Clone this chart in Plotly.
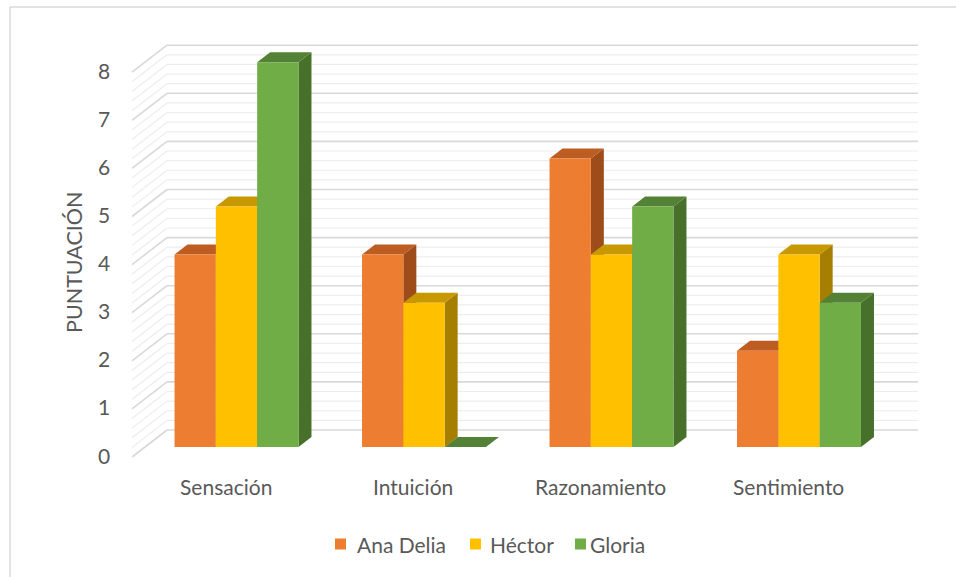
import plotly.graph_objects as go

# ---- data ----
categories = ["Sensación", "Intuición", "Razonamiento", "Sentimiento"]
series_names = ["Ana Delia", "Héctor", "Gloria"]
ana_delia = [4, 4, 6, 2]
hector = [5, 3, 4, 4]
gloria = [8, 0, 5, 3]
y_ticks = [0, 1, 2, 3, 4, 5, 6, 7, 8]
axis_title = "PUNTUACIÓN"

series_values = [ana_delia, hector, gloria]

# ---- styling ----
front_colors = ["#ED7D31", "#FFC000", "#70AD47"]
top_colors = ["#BD5D22", "#C79800", "#538135"]
side_colors = ["#9E4C1A", "#A67E00", "#47702A"]
text_color = "#595959"
font_family = "Lato"
major_grid = "#D9D9D9"
minor_grid = "#EDEDED"

W, H = 956, 577
PX_PER_CAT = 187.5      # pixels between category centres
PX_PER_UNIT = 48.1      # pixels per score unit
X0_PX = 236.5           # pixel x of the first category centre
Y0_PX = 447.0           # pixel y of score 0 on the bar front plane

x_range = [(0 - X0_PX) / PX_PER_CAT, (W - X0_PX) / PX_PER_CAT]
y_range = [(Y0_PX - H) / PX_PER_UNIT, Y0_PX / PX_PER_UNIT]


def dx(px):
    return px / PX_PER_CAT


def dy(px):
    return px / PX_PER_UNIT


bargap = 0.339
bar_w = (1 - bargap) / 3
# depth of a bar (oblique projection)
depth_x, depth_y = dx(13), dy(10)
# walls: front edge and back wall offsets relative to the bar front plane
front_off_x, front_off_y = dx(-10), dy(-10)
back_off_x, back_off_y = dx(25), dy(17)
wall_left_front = dx(132 - X0_PX)
wall_left_back = wall_left_front + dx(35)
wall_right_back = dx(918 - X0_PX)

shapes = []

# back wall and left wall gridlines (minor every 0.2, major every 1)
levels = [k * 0.2 for k in range(int(max(y_ticks) / 0.2) + 1)]
for major in (False, True):
    for k, v in enumerate(levels):
        if (k % 5 == 0) != major:
            continue
        col = major_grid if major else minor_grid
        wid = 1.6 if major else 1.2
        shapes.append(dict(type="line", xref="x", yref="y", layer="below",
                           x0=wall_left_back, x1=wall_right_back,
                           y0=v + back_off_y, y1=v + back_off_y,
                           line=dict(color=col, width=wid)))
        shapes.append(dict(type="line", xref="x", yref="y", layer="below",
                           x0=wall_left_front, x1=wall_left_back,
                           y0=v + front_off_y, y1=v + back_off_y,
                           line=dict(color=col, width=wid)))


def path(points):
    return "M " + " L ".join(f"{px:.5f},{py:.5f}" for px, py in points) + " Z"


# side and top faces of each bar, painted left to right
for i in range(len(categories)):
    for j, vals in enumerate(series_values):
        h = vals[i]
        left = i - (1 - bargap) / 2 + j * bar_w
        right = left + bar_w
        if h > 0:
            shapes.append(dict(type="path", xref="x", yref="y", layer="below",
                               path=path([(right, 0), (right + depth_x, depth_y),
                                          (right + depth_x, h + depth_y), (right, h)]),
                               fillcolor=side_colors[j], line=dict(width=0)))
        shapes.append(dict(type="path", xref="x", yref="y", layer="below",
                           path=path([(left, h), (right, h),
                                      (right + depth_x, h + depth_y),
                                      (left + depth_x, h + depth_y)]),
                           fillcolor=top_colors[j], line=dict(width=0)))

fig = go.Figure()
x_pos = list(range(len(categories)))
for j, (name, vals) in enumerate(zip(series_names, series_values)):
    fig.add_trace(go.Bar(x=x_pos, y=vals, name=name,
                         marker=dict(color=front_colors[j], line=dict(width=0)),
                         showlegend=False))

annotations = []
# score labels along the front edge of the left wall
for v in y_ticks:
    annotations.append(dict(x=dx(112 - X0_PX), y=v + front_off_y + dy(2),
                            xref="x", yref="y", text=str(v), showarrow=False,
                            xanchor="right", yanchor="middle",
                            font=dict(family=font_family, size=21, color=text_color)))
# category labels on the front edge of the floor
for i, cat in enumerate(categories):
    annotations.append(dict(x=i + dx(-11), y=dy(447 - 486), xref="x", yref="y",
                            text=cat, showarrow=False, xanchor="center",
                            yanchor="middle",
                            font=dict(family=font_family, size=21, color=text_color)))
# axis title
annotations.append(dict(x=74 / W, y=1 - 263 / H, xref="paper", yref="paper",
                        text=axis_title, textangle=-90, showarrow=False,
                        xanchor="center", yanchor="middle",
                        font=dict(family=font_family, size=21.5, color=text_color)))

# legend
legend_items = [(335, 355), (470, 488), (575, 588)]
for (sq_x, tx_x), name, col in zip(legend_items, series_names, front_colors):
    shapes.append(dict(type="rect", xref="paper", yref="paper",
                       x0=sq_x / W, x1=(sq_x + 11) / W,
                       y0=1 - 549.5 / H, y1=1 - 538.5 / H,
                       fillcolor=col, line=dict(width=0)))
    annotations.append(dict(x=tx_x / W, y=1 - 544 / H, xref="paper", yref="paper",
                            text=name, showarrow=False, xanchor="left",
                            yanchor="middle",
                            font=dict(family=font_family, size=21, color=text_color)))

# chart frame
shapes.append(dict(type="line", xref="paper", yref="paper",
                   x0=10 / W, x1=1.01, y0=1 - 7 / H, y1=1 - 7 / H,
                   line=dict(color="#D9D9D9", width=1.5)))
shapes.append(dict(type="line", xref="paper", yref="paper",
                   x0=10 / W, x1=10 / W, y0=1 - 7 / H, y1=-0.01,
                   line=dict(color="#D9D9D9", width=1.5)))

fig.update_layout(
    width=W, height=H,
    margin=dict(l=0, r=0, t=0, b=0),
    paper_bgcolor="white", plot_bgcolor="white",
    barmode="group", bargap=bargap, bargroupgap=0,
    xaxis=dict(range=x_range, visible=False, fixedrange=True),
    yaxis=dict(range=y_range, visible=False, fixedrange=True),
    shapes=shapes, annotations=annotations,
    showlegend=False,
)

fig.write_html("out.html")
